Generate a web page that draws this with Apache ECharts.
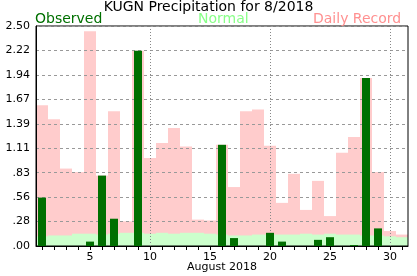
<!DOCTYPE html>
<html>
<head>
<meta charset="utf-8">
<script src="https://cdn.jsdelivr.net/npm/echarts@6/dist/echarts.min.js"></script>
<style>
html,body{margin:0;padding:0;background:#fff;}
#chart{width:417px;height:276px;}
</style>
</head>
<body>
<div id="chart"></div>
<script>
const days = ['1','2','3','4','5','6','7','8','9','10','11','12','13','14','15','16','17','18','19','20','21','22','23','24','25','26','27','28','29','30','31'];
const observed = [0.55,0,0,0,0.05,0.80,0.31,0,2.22,0,0,0,0,0,0,1.15,0.09,0,0,0.15,0.05,0,0,0.07,0.10,0,0.01,1.91,0.20,0,0];
const normal = [0.11,0.12,0.12,0.14,0.14,0.13,0.14,0.15,0.15,0.14,0.15,0.14,0.15,0.15,0.14,0.13,0.12,0.12,0.13,0.13,0.13,0.13,0.14,0.13,0.14,0.13,0.13,0.12,0.12,0.11,0.10];
const record = [1.60,1.44,0.88,0.84,2.44,0.80,1.53,0.28,2.22,1.00,1.17,1.34,1.13,0.30,0.29,1.15,0.67,1.53,1.55,1.14,0.49,0.82,0.41,0.74,0.34,1.06,1.24,1.91,0.84,0.17,0.13];
const yTickLabels = ['.00','.28','.56','.83','1.11','1.39','1.67','1.94','2.22','2.50'];
const xTickLabels = ['5','10','15','20','25','30'];
const dottedDays = ['10','20','30'];

const FONT = 'DejaVu Sans';
const chart = echarts.init(document.getElementById('chart'), null, {renderer:'canvas'});
const hiddenX = {type:'category', data: days, show:false, boundaryGap:true};
chart.setOption({
  animation:false,
  title:[
    {text:'KUGN Precipitation for 8/2018', left:'center', top:0, padding:0,
     textStyle:{fontFamily:FONT, fontSize:14, fontWeight:'normal', color:'#000'}},
    {text:'Observed', left:35, top:12, padding:0,
     textStyle:{fontFamily:FONT, fontSize:14, fontWeight:'normal', color:'#007000'}},
    {text:'Normal', left:198, top:12, padding:0,
     textStyle:{fontFamily:FONT, fontSize:14, fontWeight:'normal', color:'#88ff88'}},
    {text:'Daily Record', left:313, top:12, padding:0,
     textStyle:{fontFamily:FONT, fontSize:14, fontWeight:'normal', color:'#ff9090'}}
  ],
  grid:{left:36, top:26, width:372, height:220, show:true, borderColor:'#000', borderWidth:1, backgroundColor:'transparent', containLabel:false, outerBoundsMode:'none'},
  xAxis:[
    {type:'category', data: days, boundaryGap:true,
     name:'August 2018', nameLocation:'middle', nameGap:16, nameMoveOverlap:false,
     nameTextStyle:{fontFamily:FONT, fontSize:11, color:'#000'},
     axisLine:{show:true, lineStyle:{color:'#000', width:1}},
     axisTick:{show:true, interval:0, alignWithLabel:true, length:4, lineStyle:{color:'#000'}},
     axisLabel:{interval:(i, v) => xTickLabels.indexOf(v) >= 0, fontFamily:FONT, fontSize:11, color:'#000', margin:6, hideOverlap:false},
     splitLine:{show:false}},
    Object.assign({}, hiddenX),
    Object.assign({}, hiddenX)
  ],
  yAxis:{type:'value', min:0, max:2.5, interval:2.5/9,
    axisLine:{show:true, lineStyle:{color:'#000', width:1}},
    axisTick:{show:false},
    axisLabel:{formatter:(v, i) => yTickLabels[i], fontFamily:FONT, fontSize:11, color:'#000', margin:6},
    splitLine:{show:true, lineStyle:{color:'#999', width:1, type:[3,3]}}
  },
  series:[
    {name:'Daily Record', type:'bar', xAxisIndex:0, data:record, barWidth:12, barGap:'-100%', z:-2,
     itemStyle:{color:'#ffcccc'}, silent:true},
    {name:'Normal', type:'bar', xAxisIndex:0, data:normal, barWidth:12, barGap:'-100%', z:-1,
     itemStyle:{color:'#ccffcc'}, silent:true,
     markLine:{silent:true, symbol:['none','none'], z:1, label:{show:false},
       lineStyle:{color:'#888', type:[1,2], width:1},
       data: dottedDays.map(d => ({xAxis:d}))}},
    {name:'Observed', type:'bar', xAxisIndex:1, data:observed, barWidth:8, z:2,
     itemStyle:{color:'#006f00'}, silent:true}
  ]
});
</script>
</body>
</html>
